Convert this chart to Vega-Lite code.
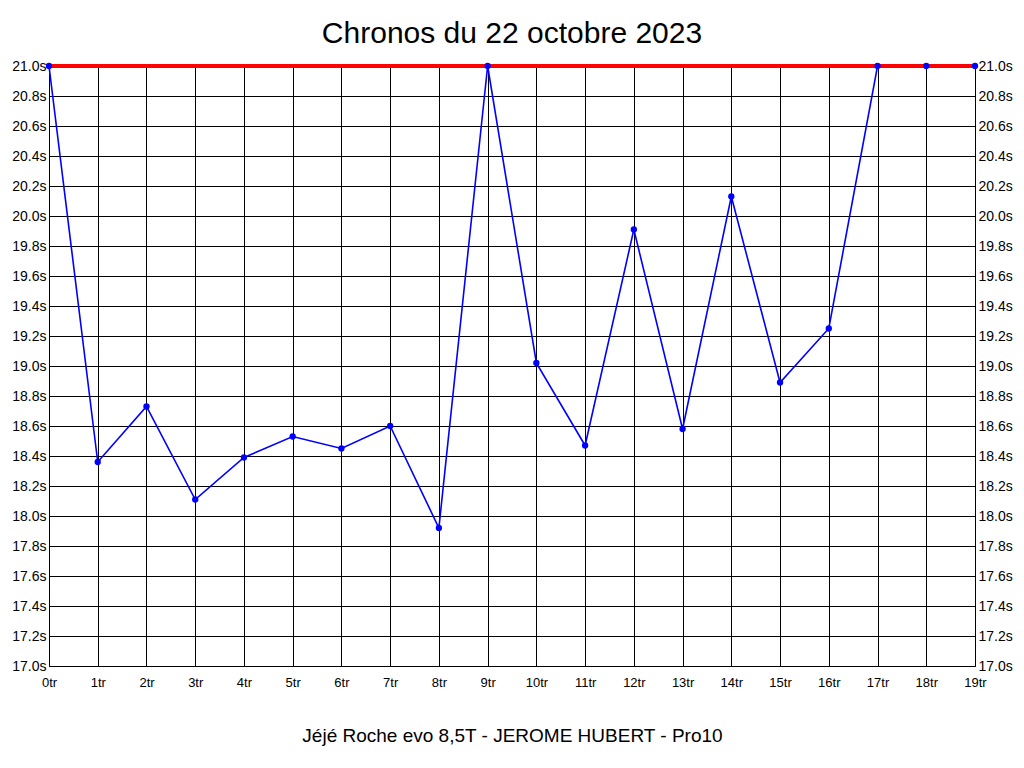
{
  "$schema": "https://vega.github.io/schema/vega-lite/v6.json",
  "width": 926,
  "height": 600,
  "autosize": {"type": "none"},
  "padding": {"left": 49, "top": 66, "right": 49, "bottom": 102},
  "background": "white",
  "title": {
    "text": "Chronos du 22 octobre 2023",
    "font": "Liberation Sans",
    "fontSize": 30,
    "fontWeight": "normal",
    "color": "black",
    "anchor": "middle",
    "baseline": "alphabetic",
    "offset": -14
  },
  "config": {
    "view": {"stroke": "black", "strokeWidth": 1},
    "axis": {
      "labelFont": "Liberation Sans",
      "labelFontSize": 14,
      "labelColor": "black",
      "labelFlush": false,
      "gridColor": "black",
      "gridOpacity": 1,
      "gridWidth": 1,
      "domain": false,
      "ticks": false
    }
  },
  "data": {
    "values": [
      {"tour": 0, "chrono": 21.0},
      {"tour": 1, "chrono": 18.36},
      {"tour": 2, "chrono": 18.73},
      {"tour": 3, "chrono": 18.11},
      {"tour": 4, "chrono": 18.39},
      {"tour": 5, "chrono": 18.53},
      {"tour": 6, "chrono": 18.45},
      {"tour": 7, "chrono": 18.6},
      {"tour": 8, "chrono": 17.92},
      {"tour": 9, "chrono": 21.0},
      {"tour": 10, "chrono": 19.02},
      {"tour": 11, "chrono": 18.47},
      {"tour": 12, "chrono": 19.91},
      {"tour": 13, "chrono": 18.58},
      {"tour": 14, "chrono": 20.13},
      {"tour": 15, "chrono": 18.89},
      {"tour": 16, "chrono": 19.25},
      {"tour": 17, "chrono": 21.0},
      {"tour": 18, "chrono": 21.0},
      {"tour": 19, "chrono": 21.0}
    ]
  },
  "layer": [
    {
      "mark": {"type": "line", "color": "#0000ff", "strokeWidth": 1.6},
      "encoding": {
        "x": {
          "field": "tour",
          "type": "quantitative",
          "scale": {"domain": [0, 19], "nice": false, "zero": false},
          "axis": {
            "values": [0,1,2,3,4,5,6,7,8,9,10,11,12,13,14,15,16,17,18,19],
            "labelExpr": "datum.value + 'tr'",
            "labelFontSize": 13,
            "labelPadding": 10,
            "title": "Jéjé Roche evo 8,5T - JEROME HUBERT - Pro10",
            "titleFont": "Liberation Sans",
            "titleFontSize": 19,
            "titleFontWeight": "normal",
            "titleColor": "black",
            "titlePadding": 37
          }
        },
        "y": {
          "field": "chrono",
          "type": "quantitative",
          "scale": {"domain": [17, 21], "nice": false, "zero": false},
          "axis": {
            "orient": "left",
            "values": [17,17.2,17.4,17.6,17.8,18,18.2,18.4,18.6,18.8,19,19.2,19.4,19.6,19.8,20,20.2,20.4,20.6,20.8,21],
            "labelExpr": "format(datum.value, '.1f') + 's'",
            "labelPadding": 3,
            "title": null
          }
        }
      }
    },
    {
      "mark": {"type": "rule", "color": "#ff0000", "strokeWidth": 3},
      "encoding": {
        "y": {
          "datum": 21,
          "type": "quantitative",
          "axis": {
            "orient": "right",
            "values": [17,17.2,17.4,17.6,17.8,18,18.2,18.4,18.6,18.8,19,19.2,19.4,19.6,19.8,20,20.2,20.4,20.6,20.8,21],
            "labelExpr": "format(datum.value, '.1f') + 's'",
            "labelPadding": 3,
            "grid": false,
            "title": null
          }
        }
      }
    },
    {
      "mark": {"type": "circle", "color": "#0000ff", "opacity": 1, "size": 40},
      "encoding": {
        "x": {"field": "tour", "type": "quantitative"},
        "y": {"field": "chrono", "type": "quantitative", "axis": null}
      }
    }
  ],
  "resolve": {"axis": {"y": "independent"}}
}
